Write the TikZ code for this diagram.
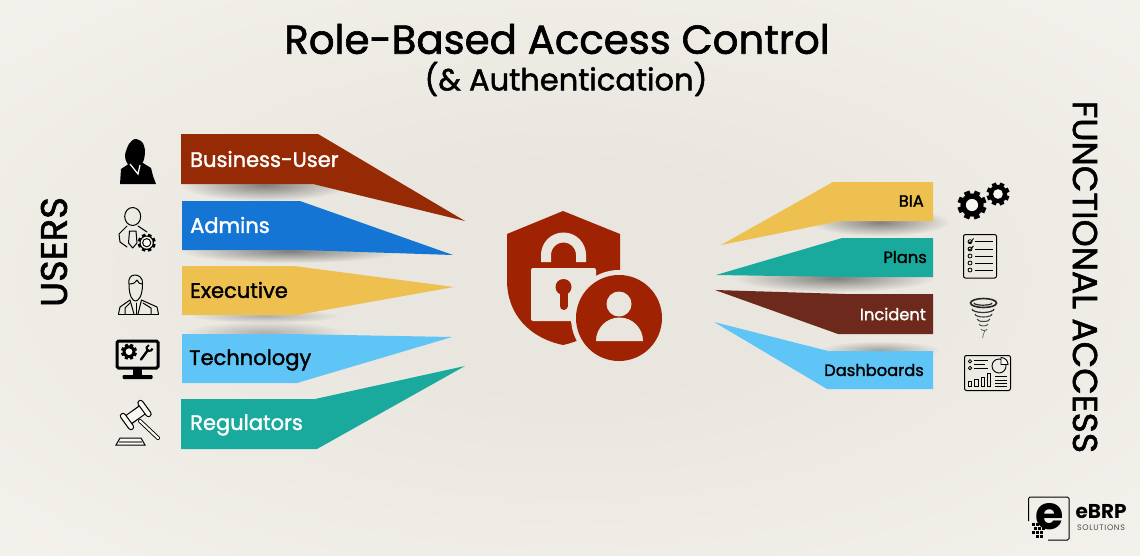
\documentclass[tikz,border=0pt]{standalone}
\usepackage{fontspec}
\usepackage{tikz}
\usetikzlibrary{positioning,fadings}
\setmainfont{Poppins}
\newfontfamily\medfont[FakeBold=1.6]{Poppins}

\definecolor{bgmid}{HTML}{E9E6DF}
\definecolor{bgedge}{HTML}{FAF8F3}
\definecolor{rustbar}{HTML}{962A05}
\definecolor{bluebar}{HTML}{1475D4}
\definecolor{yellowbar}{HTML}{EDC04F}
\definecolor{skybar}{HTML}{5FC4F6}
\definecolor{tealbar}{HTML}{19AA9D}
\definecolor{brownbar}{HTML}{6C291C}
\definecolor{shieldred}{HTML}{9F2303}

\pgfdeclareradialshading{bgglow}{\pgfpoint{0bp}{0bp}}{color(0bp)=(bgmid); color(10bp)=(bgmid); color(50bp)=(bgedge)}
\tikzfading[name=softfade, inner color=transparent!0, outer color=transparent!100]

\tikzset{
	heading/.style={font=\medfont\fontsize{40.3}{44}\selectfont, inner sep=0pt},
	subheading/.style={font=\medfont\fontsize{30.5}{34}\selectfont, inner sep=0pt},
	sidelabel/.style={font=\medfont\fontsize{34.5}{38}\selectfont, inner sep=0pt},
	userlabel/.style={font=\medfont\fontsize{21}{24}\selectfont, inner sep=0pt, anchor=west},
	accesslabel/.style={font=\medfont\fontsize{16.3}{20}\selectfont, inner sep=0pt, anchor=east},
	softshadow/.style={fill=black, opacity=.45, path fading=softfade},
	iconline/.style={draw=black, line width=1pt, line join=round, line cap=round},
	iconerase/.style={draw=bgedge, line cap=round}
}

% gear: centre, outer radius, hole colour
\newcommand{\gearicon}[5][black]{
	\fill[#1] (#2,#3) circle (#4*0.8pt);
	\foreach \a in {0,45,...,315}
		\fill[#1, rotate around={\a+22:(#2,#3)}] (#2-#4*0.2,#3) rectangle (#2+#4*0.2,#3-#4);
	\fill[#5] (#2,#3) circle (#4*0.42pt);
}

\begin{document}
\begin{tikzpicture}[x=1pt, y=-1pt]
	\useasboundingbox (0,0) rectangle (1140,555);
	\shade[shading=bgglow] (0,0) rectangle (1140,555);

	% headings
	\node (title) [heading] at (557,39) {Role-Based Access Control};
	\node (subtitle) [subheading] at (566,79) {(\& Authentication)};
	\node (users) [sidelabel, rotate=90, font=\medfont\fontsize{37}{40}\selectfont] at (54,252) {USERS};
	\node (functional) [sidelabel, rotate=-90] at (1085,277) {FUNCTIONAL ACCESS};

	% shadows
	\fill[softshadow] (265,185) ellipse (85 and 16);
	\fill[softshadow] (290,251) ellipse (110 and 12);
	\fill[softshadow, opacity=.25] (265,316) ellipse (75 and 7);
	\fill[softshadow, opacity=.25] (265,333) ellipse (80 and 12);
	\fill[softshadow] (880,222) ellipse (70 and 14);
	\fill[softshadow] (835,278) ellipse (100 and 14);
	\fill[softshadow, opacity=.3] (880,350) ellipse (60 and 9);

	% users
	\fill[rustbar] (181,134) -- (318,134) -- (465,221) -- (313,184) -- (181,184) -- cycle;
	\fill[bluebar] (182,201) -- (300,201) -- (453,255) -- (300,250) -- (182,250) -- cycle;
	\fill[yellowbar] (182,266) -- (294,266) -- (454,287) -- (297,315) -- (182,315) -- cycle;
	\fill[skybar] (182,334) -- (290,334) -- (452,337) -- (297,383) -- (182,383) -- cycle;
	\fill[tealbar] (181,399) -- (315,399) -- (465,366) -- (317,449) -- (181,449) -- cycle;
	\node (business) [userlabel, text=white] at (190,159) {Business-User};
	\node (admins) [userlabel, text=white] at (190,225) {Admins};
	\node (executive) [userlabel] at (190,290) {Executive};
	\node (technology) [userlabel] at (189,360) {Technology};
	\node (regulators) [userlabel, text=white] at (190,425) {Regulators};

	% functional access
	\fill[yellowbar] (933,182) -- (833,182) -- (721,245) -- (840,221) -- (933,221) -- cycle;
	\fill[tealbar] (933,238) -- (842,238) -- (716,275) -- (845,277) -- (933,277) -- cycle;
	\fill[brownbar] (933,294) -- (845,294) -- (715,290) -- (838,334) -- (933,334) -- cycle;
	\fill[skybar] (933,351) -- (828,351) -- (714,322) -- (827,389) -- (933,389) -- cycle;
	\node (bia) [accesslabel] at (924,201) {BIA};
	\node (plans) [accesslabel] at (927,257) {Plans};
	\node (incident) [accesslabel, text=white] at (926,314) {Incident};
	\node (dashboards) [accesslabel] at (924,370) {Dashboards};

	% shield
	\fill[shieldred] (563,211) -- (620,234) -- (620,280) .. controls (620,315) and (595,338) .. (563,345) .. controls (530,338) and (507,315) .. (507,280) -- (507,234) -- cycle;
	\draw[bgmid, line width=10pt] (546,262) -- (546,255) arc[start angle=180, end angle=360, radius=17.5] -- (581,262);
	\fill[bgmid, rounded corners=2pt] (531,268) rectangle (596,321);
	\fill[shieldred] (563.5,287) circle (8pt);
	\draw[shieldred, line width=8pt, line cap=round] (563.5,290) -- (563.5,306);
	\fill[bgmid] (619,318) circle (48pt);
	\fill[shieldred] (619,318) circle (43pt);
	\fill[bgmid] (619,304) circle (12.5pt);
	\fill[bgmid] (596,341) arc[start angle=180, end angle=360, radius=23.5] -- cycle;

	% woman
	\fill plot[smooth cycle] coordinates {(135,139) (142,142) (145,150) (143,162) (134,168) (127,163) (125,155) (129,144)};
	\fill (120,184) -- (121,169) -- (130,163) -- (143,163) -- (151,168) -- (153,176) -- (156,184) -- cycle;
	\draw[white, line width=1.2pt] (130,164) -- (138,174) -- (140,165);

	% admin
	\begin{scope}[iconline]
		\draw (132.7,216.5) ellipse (8 and 9);
		\draw (127,226) -- (119,234) -- (120,242) -- (127,247);
		\draw (138,226) -- (147,232);
		\draw (129.5,231) -- (136,231) -- (137,243) -- (132.7,248) -- (128.5,243) -- cycle;
	\end{scope}
	\gearicon{146.7}{242.7}{9}{bgedge}
	\fill[bgedge] (146.7,242.7) circle (6pt);
	\fill[black] (146.7,242.7) circle (4.6pt);
	\fill[bgedge] (146.7,242.7) circle (3.4pt);

	% executive
	\begin{scope}[iconline]
		\draw (129,284) .. controls (129,297) and (133,301) .. (135.5,301) .. controls (138,301) and (142.5,297) .. (142.5,284) .. controls (143,277) and (138,275) .. (135,275) .. controls (131,275) and (128,278) .. (129,284) -- cycle;
		\draw (129.5,284) .. controls (134,284) and (136,282) .. (137,280) .. controls (138,283) and (140,284) .. (142,284);
		\draw (118.5,314) -- (120,307) -- (130,300) -- (134,314);
		\draw (158.5,314) -- (157,307) -- (141.5,300) -- (138,314);
		\draw (118.5,314) -- (158.5,314);
		\draw (125,314) -- (125,308) -- (130,303);
		\draw (151,314) -- (151,308) -- (143,303);
		\draw (136,303) -- (136,314);
	\end{scope}

	% monitor
	\draw[line width=3pt, rounded corners=1.5pt] (117,341) rectangle (158,368);
	\fill (133.3,369) rectangle (141.7,376);
	\fill[rounded corners=1pt] (122.7,375) rectangle (152.7,379);
	\gearicon{129}{351.7}{8}{bgedge}
	\draw[line width=2.4pt, line cap=round] (141,359.5) -- (148,350);
	\draw[line width=2pt] (152.5,348.5) arc[start angle=10, end angle=260, radius=3];

	% gavel
	\draw[line width=4pt, line cap=round] (140,421) -- (158,438);
	\draw[bgedge, line width=2.2pt, line cap=round] (140,421) -- (158,438);
	\draw[line width=11pt] (129,419.5) -- (142.7,409.5);
	\draw[bgedge, line width=8.6pt] (128,420) -- (143.7,409);
	\draw[line width=6.4pt, line cap=round] (123,416) -- (131,427);
	\draw[iconerase, line width=4pt] (123,416) -- (131,427);
	\draw[line width=6.4pt, line cap=round] (140.5,403) -- (148.5,414);
	\draw[iconerase, line width=4pt] (140.5,403) -- (148.5,414);
	\draw[line width=1pt, fill=bgedge] (120,438) -- (141,438) -- (145,445) -- (116,445) -- cycle;
	\draw[gray, line width=1.6pt] (119,442) -- (142,442);

	% gears
	\gearicon{972}{205}{14.5}{bgedge}
	\gearicon{998}{194}{11.5}{bgedge}

	% checklist
	\draw[line width=1pt, rounded corners=2pt] (963.5,234.5) rectangle (996.5,278);
	\foreach \rowy in {241.7,249,256,263,270} {
		\draw[line width=.8pt] (970,\rowy) circle (2pt);
		\draw[line width=.9pt] (975,\rowy) -- (992.5,\rowy);
	}
	\draw[line width=.9pt] (968.5,241.5) -- (970,243) -- (973.5,238.5);
	\draw[line width=.9pt] (968.5,248.8) -- (970,250.3) -- (973.5,245.8);

	% tornado
	\draw[line width=1.6pt, black!85] (983.5,303) ellipse (13 and 4.5);
	\draw[line width=1.2pt, black!85] (974,303) arc[start angle=180, end angle=0, x radius=9, y radius=2.2];
	\draw[line width=1.2pt, black!80] (972,309) arc[start angle=180, end angle=0, x radius=11, y radius=3.5];
	\draw[line width=1.1pt, black!75] (975,314) arc[start angle=180, end angle=0, x radius=8.5, y radius=3];
	\draw[line width=1pt, black!75] (977,319) arc[start angle=180, end angle=0, x radius=6.5, y radius=2.5];
	\draw[line width=.9pt, black!70] (979,324) arc[start angle=180, end angle=0, x radius=4.5, y radius=2];
	\draw[line width=.8pt, black!65] (981,329) arc[start angle=180, end angle=0, x radius=3, y radius=1.5];
	\draw[line width=.7pt, black!60] (985,331) .. controls (983,334) and (983,336) .. (982.7,338);

	% dashboard
	\draw[line width=1pt, rounded corners=2pt] (964.5,355.5) rectangle (1010.5,390.5);
	\draw[line width=.8pt] (970,361.3) circle (1.7pt) (970,368) circle (1.7pt);
	\draw[line width=1pt] (973.5,360) -- (987.5,360) (973.5,364) -- (985,364) (973.5,368.7) -- (987.5,368.7);
	\draw[line width=.9pt] (999,366) circle (7pt);
	\fill[bgedge, draw=black, line width=.9pt] (1001,364.5) -- (1001,357.5) arc[start angle=-90, end angle=0, radius=7] -- cycle;
	\foreach \barx/\bartop in {968.5/381,974.8/379.3,981/377.3,987/373.3}
		\draw[line width=.9pt] (\barx,386.7) rectangle (\barx+3.4,\bartop);
	\foreach \rowy in {376,380,383.3,386.7}
		\draw[line width=.9pt] (995,\rowy) -- (1006.7,\rowy);

	% logo
	\draw[line width=1pt, rounded corners=1.5pt] (1028.5,521) -- (1028.5,497) -- (1069,497) -- (1069,540) -- (1048,540);
	\node (logomark) [font=\fontsize{46}{46}\selectfont\bfseries, inner sep=0pt] at (1050,517) {e};
	\foreach \dotx/\doty in {1032/523,1036/523,1040/523,1034/527,1038/527,1042/527,1032/531,1036/531,1040/531,1036/535,1040/535}
		\fill (\dotx,\doty) rectangle +(2.6,2.6);
	\node (logoname) [font=\fontsize{20}{22}\selectfont\bfseries, inner sep=0pt] at (1101,512) {eBRP};
	\node (logosub) [font=\fontsize{8}{10}\selectfont\addfontfeature{LetterSpace=8}, inner sep=0pt, text=black!70] at (1101,528) {SOLUTIONS};
\end{tikzpicture}
\end{document}
